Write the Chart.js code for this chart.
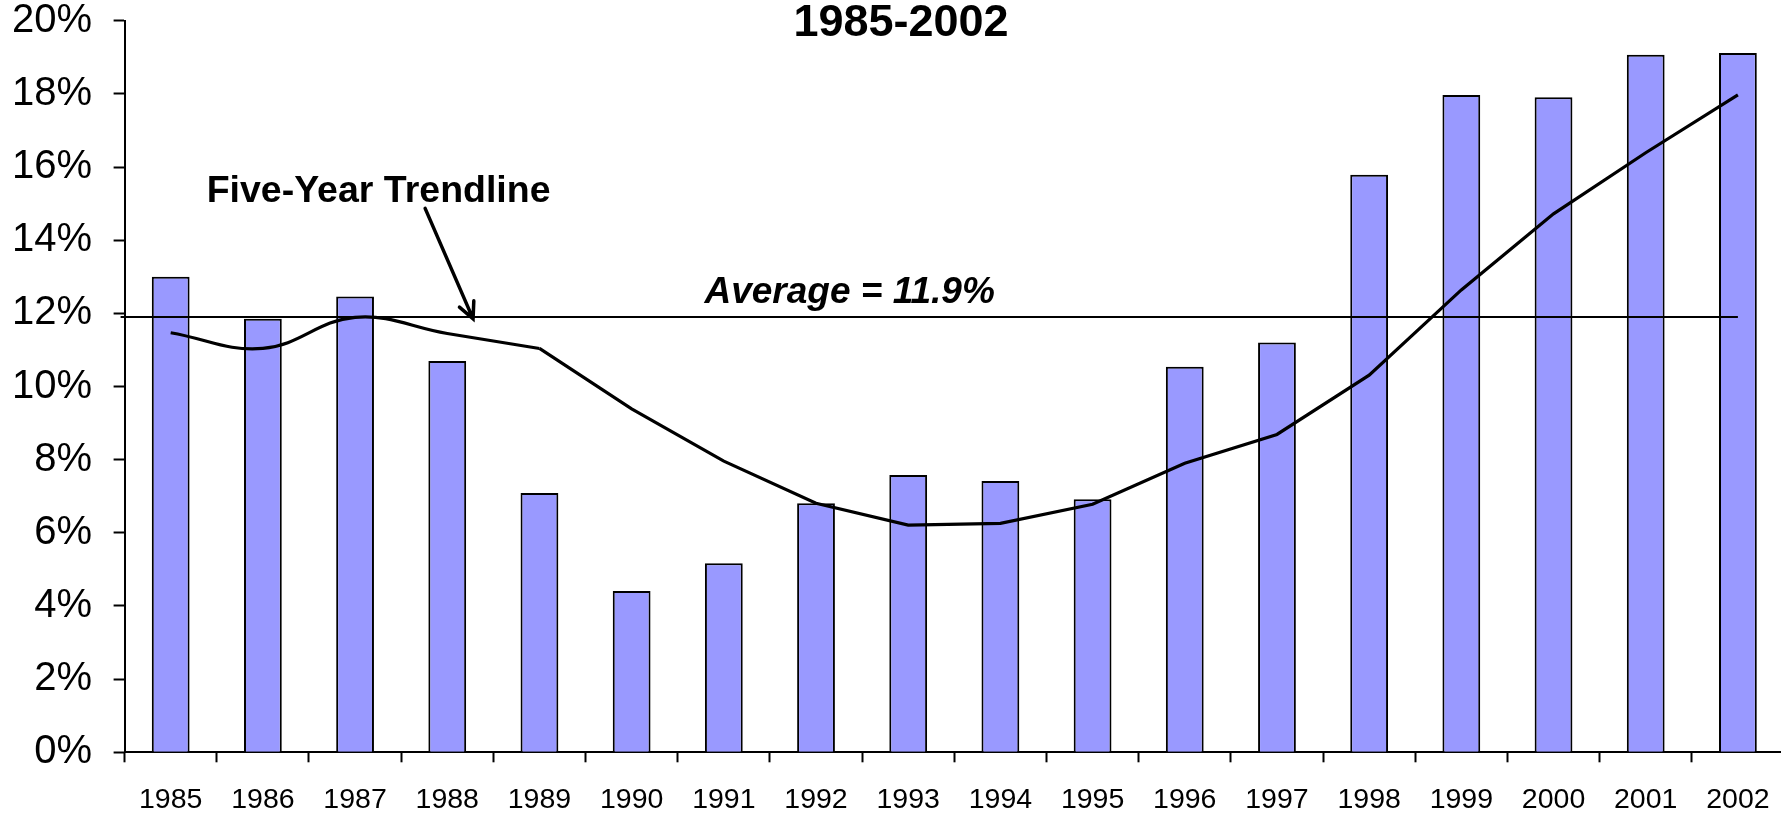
<!DOCTYPE html>
<html>
<head>
<meta charset="utf-8">
<title>Annual growth 1985-2002</title>
<script src="https://cdn.jsdelivr.net/npm/chart.js@4/dist/chart.umd.min.js"></script>
<style>
  html, body { margin: 0; padding: 0; background: #ffffff; overflow: hidden; }
  #wrap { width: 1800px; height: 818px; }
</style>
</head>
<body>
<div id="wrap"><canvas id="chart" width="1800" height="818"></canvas></div>
<script>
// Years on the category axis
const years = ['1985', '1986', '1987', '1988', '1989', '1990', '1991', '1992', '1993',
               '1994', '1995', '1996', '1997', '1998', '1999', '2000', '2001', '2002'];

// Annual rate, in percent
const annualRate = [13.0, 11.85, 12.46, 10.70, 7.09, 4.41, 5.17, 6.81, 7.58,
                    7.42, 6.92, 10.54, 11.20, 15.79, 17.97, 17.91, 19.07, 19.12];

// Five-year trendline, in percent
const fiveYearTrend = [11.47, 11.04, 11.89, 11.45, 11.04, 9.39, 7.96, 6.81, 6.21,
                       6.26, 6.78, 7.90, 8.69, 10.31, 12.64, 14.72, 16.39, 17.97];

// Period average, in percent
const averageRate = 11.9;

// Value axis range and step, in percent
const yMin = 0;
const yMax = 20;
const yStep = 2;

const FONT = '"Liberation Sans", Arial, Helvetica, sans-serif';
const lastSmoothIndex = 4; // the trend is smoothed through 1989, straight after

const trendSmooth = fiveYearTrend.map((v, i) => (i <= lastSmoothIndex ? v : null));
const trendStraight = fiveYearTrend.map((v, i) => (i >= lastSmoothIndex ? v : null));

// Title, average line and the labelled arrow
const annotations = {
  id: 'annotations',
  afterDatasetsDraw(chart) {
    const { ctx, chartArea, scales } = chart;
    const x = scales.x, y = scales.y;
    ctx.save();

    // title
    ctx.fillStyle = '#000';
    ctx.font = 'bold 45px ' + FONT;
    ctx.textAlign = 'center';
    ctx.textBaseline = 'alphabetic';
    ctx.fillText('1985-2002', 901, 36);

    // average line across the period
    const avgY = y.getPixelForValue(averageRate);
    ctx.strokeStyle = '#000';
    ctx.lineWidth = 2;
    ctx.beginPath();
    ctx.moveTo(chartArea.left - 4, avgY);
    ctx.lineTo(x.getPixelForValue(years.length - 1), avgY);
    ctx.stroke();

    ctx.font = 'italic bold 37px ' + FONT;
    ctx.textAlign = 'left';
    ctx.fillText('Average = ' + averageRate.toFixed(1) + '%', x.getPixelForValue(5.79), avgY - 14);

    // trendline label and arrow
    ctx.font = 'bold 37.5px ' + FONT;
    ctx.fillText('Five-Year Trendline', x.getPixelForValue(0.39), y.getPixelForValue(15.05));

    const x0 = x.getPixelForValue(2.76), y0 = y.getPixelForValue(14.87);
    const x1 = x.getPixelForValue(3.28), y1 = y.getPixelForValue(11.85);
    ctx.lineWidth = 3.5;
    ctx.lineCap = 'round';
    ctx.lineJoin = 'miter';
    ctx.beginPath();
    ctx.moveTo(x0, y0);
    ctx.lineTo(x1, y1);
    const ang = Math.atan2(y1 - y0, x1 - x0);
    const head = 18, spread = 0.45;
    ctx.moveTo(x1 - head * Math.cos(ang - spread), y1 - head * Math.sin(ang - spread));
    ctx.lineTo(x1, y1);
    ctx.lineTo(x1 - head * Math.cos(ang + spread), y1 - head * Math.sin(ang + spread));
    ctx.stroke();

    ctx.restore();
  }
};

new Chart(document.getElementById('chart'), {
  type: 'bar',
  data: {
    labels: years,
    datasets: [
      {
        type: 'line',
        label: 'Five-Year Trendline',
        data: trendSmooth,
        borderColor: '#000',
        borderWidth: 3.2,
        tension: 0.4,
        pointRadius: 0,
        spanGaps: false,
        order: 1
      },
      {
        type: 'line',
        label: 'Five-Year Trendline (cont.)',
        data: trendStraight,
        borderColor: '#000',
        borderWidth: 3.2,
        tension: 0,
        pointRadius: 0,
        spanGaps: false,
        order: 1
      },
      {
        type: 'bar',
        label: 'Annual rate',
        data: annualRate,
        backgroundColor: '#9999FF',
        borderColor: '#000',
        borderWidth: 2,
        barPercentage: 0.41,
        categoryPercentage: 1.0,
        order: 3
      }
    ]
  },
  options: {
    responsive: false,
    animation: false,
    devicePixelRatio: 1,
    layout: { padding: { left: 12, right: 16, top: 0, bottom: 0 } },
    plugins: {
      legend: { display: false },
      tooltip: { enabled: false },
      title: { display: false }
    },
    scales: {
      x: {
        offset: true,
        grid: {
          offset: true,
          drawOnChartArea: false,
          drawTicks: true,
          tickLength: 10,
          tickColor: '#000',
          tickWidth: 2
        },
        border: { display: true, color: '#000', width: 2 },
        ticks: {
          color: '#000',
          font: { family: FONT, size: 28.5, lineHeight: 1.0 },
          padding: 24,
          maxRotation: 0,
          autoSkip: false
        },
        afterFit(scale) { scale.height = 65.7; }
      },
      y: {
        min: yMin,
        max: yMax,
        grid: {
          drawOnChartArea: false,
          drawTicks: true,
          tickLength: 11,
          tickColor: '#000',
          tickWidth: 2
        },
        border: { display: true, color: '#000', width: 2 },
        ticks: {
          stepSize: yStep,
          color: '#000',
          font: { family: FONT, size: 40 },
          padding: 21.6,
          callback: v => v + '%'
        },
        afterFit(scale) {
          scale.width = 112.6;
          scale.paddingTop = 20.7;
          scale.paddingBottom = 0;
        }
      }
    }
  },
  plugins: [annotations]
});
</script>
</body>
</html>
